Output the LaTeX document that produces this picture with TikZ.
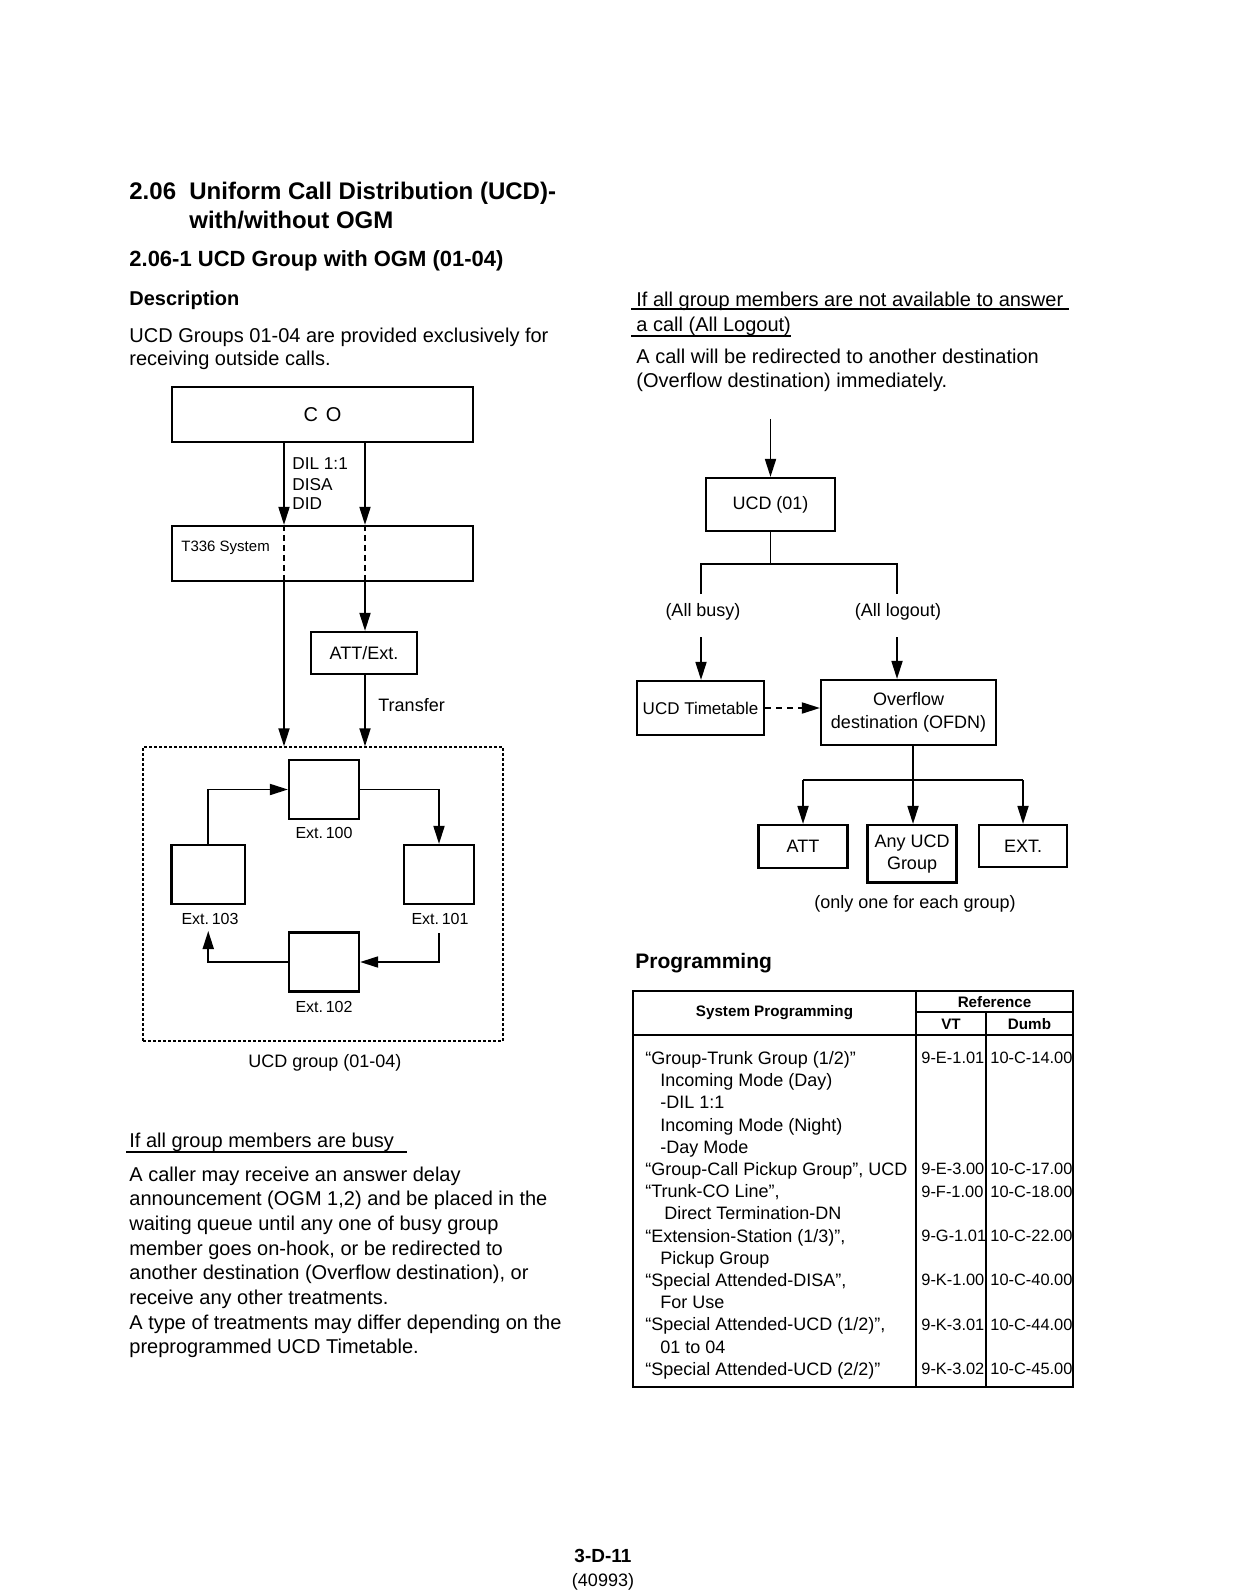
\documentclass[tikz,border=0pt]{standalone}
\usepackage{fontspec}
\setmainfont{Liberation Sans}
\usetikzlibrary{arrows.meta}
\begin{document}
\begin{tikzpicture}[x=0.5pt,y=-0.5pt,
  every node/.style={inner sep=0pt},
  bx/.style={draw, line width=1.1pt, rectangle, inner sep=0pt, align=center},
  arr/.style={line width=0.9pt, -{Triangle[length=9pt,width=5.5pt]}},
  ln/.style={line width=0.9pt},
  dsh/.style={line width=0.9pt, dash pattern=on 3pt off 2pt},
  tx/.style={anchor=west, text depth=0pt},
  h1/.style={tx, font=\fontsize{12}{14}\selectfont\bfseries, text height=8.6pt},
  h2/.style={tx, font=\fontsize{11}{13}\selectfont\bfseries, text height=7.9pt},
  h3/.style={tx, font=\fontsize{10}{12}\selectfont\bfseries, text height=7.2pt},
  body/.style={tx, font=\fontsize{10}{12}\selectfont, text height=7.2pt},
  lab/.style={text depth=0pt, font=\fontsize{9}{11}\selectfont, text height=6.5pt},
  labw/.style={lab, anchor=west},
  lab8/.style={text depth=0pt, font=\fontsize{8}{10}\selectfont, text height=5.8pt},
  tb/.style={tx, font=\fontsize{9}{11}\selectfont, text height=6.5pt},
  num/.style={tx, font=\fontsize{8.2}{10}\selectfont, text height=5.9pt},
  th/.style={text depth=0pt, font=\fontsize{7.6}{9}\selectfont\bfseries, text height=5.5pt},
  f9/.style={font=\fontsize{9}{11}\selectfont},
]
\fill[white] (0,0) rectangle (1232,1593);
\useasboundingbox (0,0) rectangle (1232,1593);

% ---------- headings and left text ----------
\node[h1] (h1num) at (129,191) {2.06};
\node[h1] (h1a) at (189,191) {Uniform Call Distribution (UCD)-};
\node[h1] (h1b) at (189,220) {with/without OGM};
\node[h2] (h2) at (129,259) {2.06-1 UCD Group with OGM (01-04)};
\node[h3] (desc) at (129,298) {Description};
\node[body] (p1) at (129,335) {UCD Groups 01-04 are provided exclusively for};
\node[body] (p2) at (129,358.5) {receiving outside calls.};

% ---------- left diagram ----------
\node[bx, minimum width=150.5pt, minimum height=27.5pt, font=\fontsize{10}{12}\selectfont] (co) at (322.5,414.5) {C\hspace{0.4em}O};
\node[bx, minimum width=150.5pt, minimum height=27.5pt] (t336) at (322.5,553.5) {};
\node[tx, font=\fontsize{7.5}{9}\selectfont, text height=5.4pt] (t336l) at (181,546) {T336 System};
\node[bx, minimum width=53pt, minimum height=21pt, f9] (att) at (364,653) {ATT/Ext.};
\node[draw, line width=0.7pt, dash pattern=on 1.5pt off 1pt, minimum width=180pt, minimum height=147pt] (grp) at (323,894) {};

\coordinate (xl) at (284,0);
\coordinate (xr) at (365,0);
\draw[arr] (co.south -| xl) -- (t336.north -| xl);
\draw[arr] (co.south -| xr) -- (t336.north -| xr);
\draw[dsh] (t336.north -| xl) -- (t336.south -| xl);
\draw[dsh] (t336.north -| xr) -- (t336.south -| xr);
\draw[arr] (t336.south -| xl) -- (grp.north -| xl);
\draw[arr] (t336.south -| xr) -- (att.north -| xr);
\draw[arr] (att.south -| xr) -- (grp.north -| xr);

\node[tx, font=\fontsize{8.6}{10}\selectfont, text height=6.2pt] (dil) at (292,463) {DIL 1:1};
\node[tx, font=\fontsize{8.6}{10}\selectfont, text height=6.2pt] (disa) at (292,484) {DISA};
\node[tx, font=\fontsize{8.6}{10}\selectfont, text height=6.2pt] (did) at (292,503) {DID};
\node[labw] (transfer) at (378,705) {Transfer};

\node[bx, minimum width=35pt, minimum height=29.5pt] (e100) at (324,789.5) {};
\node[bx, minimum width=36.75pt, minimum height=29.5pt] (e103) at (208.25,874.5) {};
\node[bx, minimum width=35pt, minimum height=29.5pt] (e101) at (439,874.5) {};
\node[bx, minimum width=35pt, minimum height=29.5pt] (e102) at (324,962) {};
\node[lab8] (l100) at (324,833) {Ext.\,100};
\node[lab8] (l103) at (210,919) {Ext.\,103};
\node[lab8] (l101) at (440,919) {Ext.\,101};
\node[lab8] (l102) at (324,1007) {Ext.\,102};

\draw[arr] (e103.north) |- (e100.west);
\draw[arr] (e100.east) -| (e101.north);
\coordinate (s101) at (439,933);
\draw[arr] (s101) |- (e102.east);
\coordinate (t103) at (208.25,931);
\draw[arr] (e102.west) -| (t103);

\node[lab] (grpl) at (325,1061) {UCD group (01-04)};

% ---------- busy text ----------
\node[body] (bh) at (129,1140) {If all group members are busy};
\draw[line width=1pt] (126,1152) -- (407,1152);
\node[body] (b1) at (129,1174) {A caller may receive an answer delay};
\node[body] (b2) at (129,1198.65) {announcement (OGM 1,2) and be placed in the};
\node[body] (b3) at (129,1223.3) {waiting queue until any one of busy group};
\node[body] (b4) at (129,1247.95) {member goes on-hook, or be redirected to};
\node[body] (b5) at (129,1272.6) {another destination (Overflow destination), or};
\node[body] (b6) at (129,1297.25) {receive any other treatments.};
\node[body] (b7) at (129,1321.9) {A type of treatments may differ depending on the};
\node[body] (b8) at (129,1346.55) {preprogrammed UCD Timetable.};

% ---------- right text ----------
\node[body] (r1) at (636,299) {If all group members are not available to answer};
\draw[line width=1pt] (631,309) -- (1069,309);
\node[body] (r2) at (636,324) {a call (All Logout)};
\draw[line width=1pt] (631,336) -- (791,336);
\node[body] (r3) at (636,356) {A call will be redirected to another destination};
\node[body] (r4) at (636,380) {(Overflow destination) immediately.};

% ---------- right diagram ----------
\node[bx, minimum width=64.5pt, minimum height=26.5pt, f9] (ucd) at (770.5,504.5) {UCD (01)};
\coordinate (inTop) at (770.5,419);
\draw[arr] (inTop) -- (ucd.north);
\coordinate (jn) at (770.5,564);
\coordinate (bl) at (701,594);
\coordinate (br) at (897,594);
\draw[ln] (ucd.south) -- (jn);
\draw[ln] (bl) |- (jn) -| (br);
\node[lab] (busy) at (703,610) {(All busy)};
\node[lab] (logout) at (898,610) {(All logout)};

\node[bx, minimum width=63.5pt, minimum height=27pt, font=\fontsize{8.5}{10}\selectfont] (tt) at (700.5,708) {UCD Timetable};
\node[bx, minimum width=87.5pt, minimum height=32.5pt, font=\fontsize{9}{11.4}\selectfont] (ofdn) at (908.5,712.5) {Overflow\\destination (OFDN)};
\coordinate (al) at (701,637);
\coordinate (ar) at (897,637);
\draw[arr] (al) -- (tt.north -| al);
\draw[arr] (ar) -- (ofdn.north -| ar);
\draw[line width=0.9pt, dash pattern=on 3pt off 2.5pt, -{Triangle[length=9pt,width=5.5pt]}] (tt.east) -- (tt.east -| ofdn.west);

\node[bx, minimum width=44.5pt, minimum height=21.5pt, f9] (att2) at (803,846.5) {ATT};
\node[bx, minimum width=44.5pt, minimum height=28.75pt, font=\fontsize{9}{11}\selectfont] (anyucd) at (912,853.75) {Any UCD\\Group};
\node[bx, minimum width=44.25pt, minimum height=21pt, f9] (ext) at (1023,846) {EXT.};
\coordinate (oj) at (913,780);
\draw[ln] (ofdn.south -| oj) -- (oj);
\draw[ln] (att2.north |- oj) -- (ext.north |- oj);
\draw[arr] (att2.north |- oj) -- (att2.north);
\draw[arr] (oj) -- (anyucd.north -| oj);
\draw[arr] (ext.north |- oj) -- (ext.north);
\node[lab] (only) at (915,902) {(only one for each group)};

% ---------- programming table ----------
\node[tx, font=\fontsize{10.5}{12}\selectfont\bfseries, text height=7.6pt] (prog) at (635,961) {Programming};

\coordinate (tNW) at (633,991);
\coordinate (tSE) at (1073,1387);
\coordinate (c1) at (916,991);
\coordinate (c2) at (986,1012);
\draw[line width=1.1pt] (tNW) rectangle (tSE);
\draw[line width=1.1pt] (c1) -- (c1 |- tSE);
\draw[line width=1.1pt] (c2) -- (c2 |- tSE);
\draw[line width=1.1pt] (c1 |- c2) -- (tSE |- c2);
\draw[line width=1.1pt] (tNW |- 0,1035) -- (tSE |- 0,1035);

\node[th] (hsys) at (774.5,1011) {System Programming};
\node[th] (href) at (994.5,1002) {Reference};
\node[th] (hvt) at (951,1024) {VT};
\node[th] (hdumb) at (1029.5,1024) {Dumb};

\node[tb] (t0) at (645,1058) {“Group-Trunk Group (1/2)”};
\node[tb] (t1) at (660,1080.2) {Incoming Mode (Day)};
\node[tb] (t2) at (660,1102.4) {-DIL 1:1};
\node[tb] (t3) at (660,1124.6) {Incoming Mode (Night)};
\node[tb] (t4) at (660,1146.8) {-Day Mode};
\node[tb] (t5) at (645,1169) {“Group-Call Pickup Group”, UCD};
\node[tb] (t6) at (645,1191.2) {“Trunk-CO Line”,};
\node[tb] (t7) at (664,1213.4) {Direct Termination-DN};
\node[tb] (t8) at (645,1235.6) {“Extension-Station (1/3)”,};
\node[tb] (t9) at (660,1257.8) {Pickup Group};
\node[tb] (t10) at (645,1280) {“Special Attended-DISA”,};
\node[tb] (t11) at (660,1302.2) {For Use};
\node[tb] (t12) at (645,1324.4) {“Special Attended-UCD (1/2)”,};
\node[tb] (t13) at (660,1346.6) {01 to 04};
\node[tb] (t14) at (645,1368.8) {“Special Attended-UCD (2/2)”};

\node[num] (v0) at (921,1058) {9-E-1.01};
\node[num] (v5) at (921,1169) {9-E-3.00};
\node[num] (v6) at (921,1191.2) {9-F-1.00};
\node[num] (v8) at (921,1235.6) {9-G-1.01};
\node[num] (v10) at (921,1280) {9-K-1.00};
\node[num] (v12) at (921,1324.4) {9-K-3.01};
\node[num] (v14) at (921,1368.8) {9-K-3.02};

\node[num] (d0) at (990,1058) {10-C-14.00};
\node[num] (d5) at (990,1169) {10-C-17.00};
\node[num] (d6) at (990,1191.2) {10-C-18.00};
\node[num] (d8) at (990,1235.6) {10-C-22.00};
\node[num] (d10) at (990,1280) {10-C-40.00};
\node[num] (d12) at (990,1324.4) {10-C-44.00};
\node[num] (d14) at (990,1368.8) {10-C-45.00};

% ---------- footer ----------
\node[text depth=0pt, font=\fontsize{9.5}{11}\selectfont\bfseries, text height=6.8pt] (pg) at (603,1556) {3-D-11};
\node[lab] (pgn) at (603,1580) {(40993)};
\end{tikzpicture}
\end{document}
